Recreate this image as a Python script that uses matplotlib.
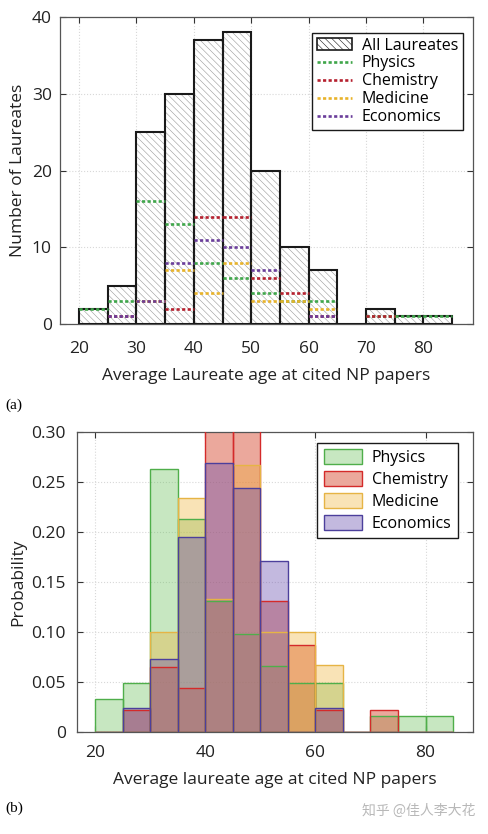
#!/usr/bin/env python3
import matplotlib
matplotlib.use("Agg")
import matplotlib.pyplot as plt
from matplotlib.patches import Patch
from matplotlib.lines import Line2D
import numpy as np

plt.rcParams['font.family'] = ['Open Sans', 'DejaVu Sans']
plt.rcParams['hatch.linewidth'] = 0.4
plt.rcParams['hatch.color'] = '#9a9a9a'

# bins of 5 years, left edges
bin_left = [20, 25, 30, 35, 40, 45, 50, 55, 60, 65, 70, 75, 80]
bin_width = 5

all_counts = [2, 5, 25, 30, 37, 38, 20, 10, 7, 0, 2, 1, 1]
physics = [2, 3, 16, 13, 8, 6, 4, 3, 3, 0, 1, 1, 1]
chemistry = [0, 1, 3, 2, 14, 14, 6, 4, 1, 0, 1, 0, 0]
medicine = [0, 0, 3, 7, 4, 8, 3, 3, 2, 0, 0, 0, 0]
economics = [0, 1, 3, 8, 11, 10, 7, 0, 1, 0, 0, 0, 0]

names = ['Physics', 'Chemistry', 'Medicine', 'Economics']
series = [physics, chemistry, medicine, economics]
line_colors = ['#3fa64a', '#b5202e', '#e8b32a', '#6a3d9a']
face_colors = ['#6cc25e', '#d9533a', '#f0b030', '#6a50b0']
face_alpha = [0.38, 0.5, 0.35, 0.4]
edge_colors = ['#4fae4a', '#d42a2a', '#e6b445', '#4c3f9c']

xlim = (16.7, 88.6)
text_color = '#222222'
tick_size = 12.5
label_size = 12.5
legend_size = 11.5

fig = plt.figure(figsize=(4.88, 8.34), dpi=100)

# ---------- (a) counts ----------
ax1 = fig.add_axes([0.123, 0.6115, 0.846, 0.368])
lefts = np.array(bin_left, dtype=float)
ax1.bar(lefts, all_counts, width=bin_width, align='edge', facecolor='white',
        edgecolor='#9a9a9a', hatch='\\\\\\\\\\', linewidth=0, zorder=2)
ax1.bar(lefts, all_counts, width=bin_width, align='edge', facecolor='none',
        edgecolor='#1a1a1a', linewidth=1.5, zorder=3)
for vals, c in zip(series, line_colors):
    v = np.array(vals, dtype=float)
    m = v > 0
    ax1.hlines(v[m], lefts[m], lefts[m] + bin_width, colors=c,
               linestyles=(0, (1.2, 0.9)), linewidth=1.9, zorder=4)

ax1.set_xlim(*xlim)
ax1.set_ylim(0, 40)
ax1.set_xticks([20, 30, 40, 50, 60, 70, 80])
ax1.set_yticks([0, 10, 20, 30, 40])
ax1.set_xlabel('Average Laureate age at cited NP papers', fontsize=label_size,
               color=text_color, labelpad=8)
ax1.set_ylabel('Number of Laureates', fontsize=label_size, color=text_color, labelpad=4)

handles1 = [Patch(facecolor='white', edgecolor='#1a1a1a', hatch='\\\\\\\\\\',
                  linewidth=1.2, label='All Laureates')]
for n, c in zip(names, line_colors):
    handles1.append(Line2D([], [], color=c, linestyle=(0, (1.2, 0.9)),
                           linewidth=1.9, label=n))
leg1 = ax1.legend(handles=handles1, loc='upper right', bbox_to_anchor=(0.995, 0.975),
                  fontsize=legend_size, frameon=True, fancybox=False, framealpha=1,
                  edgecolor='#1a1a1a', borderpad=0.3, labelspacing=0.12,
                  handlelength=2.2, handletextpad=0.6)
leg1.get_frame().set_linewidth(1.0)

# ---------- (b) probability ----------
ax2 = fig.add_axes([0.158, 0.1223, 0.811, 0.360])
for vals, fc, a, ec, n in zip(series, face_colors, face_alpha, edge_colors, names):
    v = np.array(vals, dtype=float)
    prob = v / v.sum()
    ax2.bar(lefts, prob, width=bin_width, align='edge', color=fc, alpha=a,
            linewidth=0, zorder=2)
    ax2.bar(lefts, prob, width=bin_width, align='edge', facecolor='none',
            edgecolor=ec, linewidth=1.0, zorder=3)

ax2.set_xlim(*xlim)
ax2.set_ylim(0, 0.30)
ax2.set_xticks([20, 40, 60, 80])
ax2.set_yticks([0, 0.05, 0.10, 0.15, 0.20, 0.25, 0.30])
ax2.set_yticklabels(['0', '0.05', '0.10', '0.15', '0.20', '0.25', '0.30'])
ax2.set_xlabel('Average laureate age at cited NP papers', fontsize=label_size,
               color=text_color, labelpad=8)
ax2.set_ylabel('Probability', fontsize=label_size, color=text_color, labelpad=4)

handles2 = [Patch(facecolor=matplotlib.colors.to_rgba(fc, a), edgecolor=ec,
                  linewidth=1.0, label=n)
            for fc, a, ec, n in zip(face_colors, face_alpha, edge_colors, names)]
leg2 = ax2.legend(handles=handles2, loc='upper right', bbox_to_anchor=(0.982, 0.99),
                  fontsize=legend_size, frameon=True, fancybox=False, framealpha=1,
                  edgecolor='#1a1a1a', borderpad=0.4, labelspacing=0.3,
                  handlelength=2.4, handleheight=1.1, handletextpad=0.6)
leg2.get_frame().set_linewidth(1.0)

for ax in (ax1, ax2):
    ax.set_axisbelow(True)
    ax.grid(True, color='#d8d8d8', linestyle=':', linewidth=0.8)
    ax.tick_params(direction='in', top=True, right=True, length=4,
                   labelsize=tick_size, colors='#333333', labelcolor=text_color)
    for s in ax.spines.values():
        s.set_color('#555555')
        s.set_linewidth(0.9)
ax1.tick_params(axis='x', pad=12)
ax1.tick_params(axis='y', pad=6)
ax2.tick_params(axis='x', pad=9)
ax2.tick_params(axis='y', pad=8)

fig.text(0.012, 0.514, '(a)', family=['Liberation Serif'], fontsize=11, va='center')
fig.text(0.012, 0.031, '(b)', family=['Liberation Serif'], fontsize=11, va='center')
fig.text(0.975, 0.028, '知乎 @佳人李大花', family=['Noto Sans CJK SC', 'DejaVu Sans'],
         fontsize=10, color='#b8b8b8', ha='right', va='center')

fig.savefig('out.png', dpi=100)
